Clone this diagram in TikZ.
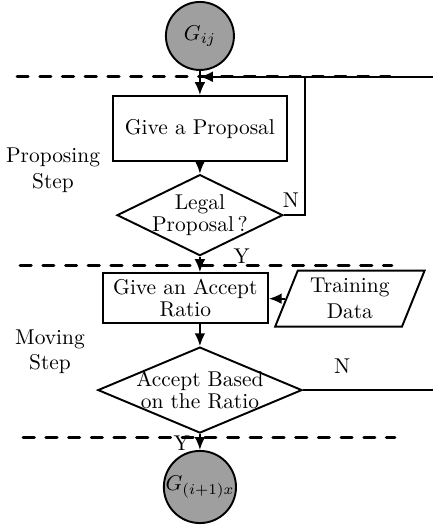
\documentclass[tikz,border=0pt]{standalone}
\usetikzlibrary{shapes.geometric,arrows.meta}

\begin{document}
\begin{tikzpicture}[>={Latex[length=6pt,width=5pt]}, line width=0.9pt,
  state/.style={draw, circle, fill=gray!75, minimum size=1.116cm, inner sep=0pt},
  proc/.style={draw, rectangle, align=center, inner sep=0pt},
  decide/.style={draw, diamond, aspect=2.5, align=center, inner sep=-4pt},
  io/.style={draw, trapezium, trapezium left angle=68, trapezium right angle=112, align=center, inner sep=1pt},
  sepline/.style={line width=1.4pt, dash pattern=on 5.2pt off 5.4pt, line cap=round}]
\useasboundingbox (0,0) rectangle (7.09,8.63);
% step separators
\draw[sepline] (0.28,7.37) -- (6.40,7.37);
\draw[sepline] (0.33,4.27) -- (6.43,4.27);
\draw[sepline] (0.38,1.46) -- (6.48,1.46);
\node[align=center] (S1) at (0.87,5.84) {Proposing\\Step};
\node[align=center] (S2) at (0.82,2.86) {Moving\\Step};
% flow nodes
\node[state] (G1) at (3.28,8.04) {$G_{ij}$};
\node[proc, minimum width=2.86cm, minimum height=1.07cm] (P1) at (3.28,6.52) {Give a Proposal};
\node[decide, minimum width=2.72cm, minimum height=1.33cm] (D1) at (3.28,5.10) {Legal\\[-2pt]Proposal\,?};
\node[proc, minimum width=2.71cm, minimum height=0.82cm] (P2) at (3.04,3.74) {Give an Accept\\[-2pt]Ratio};
\node[io, minimum width=2.46cm, minimum height=0.84cm] (T1) at (5.74,3.73) {Training\\Data};
\node[decide, minimum width=3.35cm, minimum height=1.41cm] (D2) at (3.28,2.23) {Accept Based\\[-2pt]on the Ratio};
\node[state] (G2) at (3.28,0.64) {$G_{(i+1)x}$};
\coordinate (J1) at (3.28,7.37);
\coordinate (L1) at (5.00,7.37);
\coordinate (R1) at (7.12,2.23);
% connectors
\draw[->] (G1) -- (P1);
\draw[->] (P1) -- (D1);
\draw[->] (D1.south) node[right=12pt] {Y} -- (D1.south |- P2.north);
\draw (D1.east) node[above, xshift=3.3pt] {N} -| (L1);
\draw[->] (T1.west) -- (T1.west -| P2.east);
\draw[->] (P2.south -| D2.north) -- (D2.north);
\draw[->] (D2.east) -- (R1) node[pos=0.3, above=4pt] {N} |- (J1);
\draw[->] (D2.south) -- (G2) node[pos=0.6, left=1pt] {Y};
\end{tikzpicture}
\end{document}
